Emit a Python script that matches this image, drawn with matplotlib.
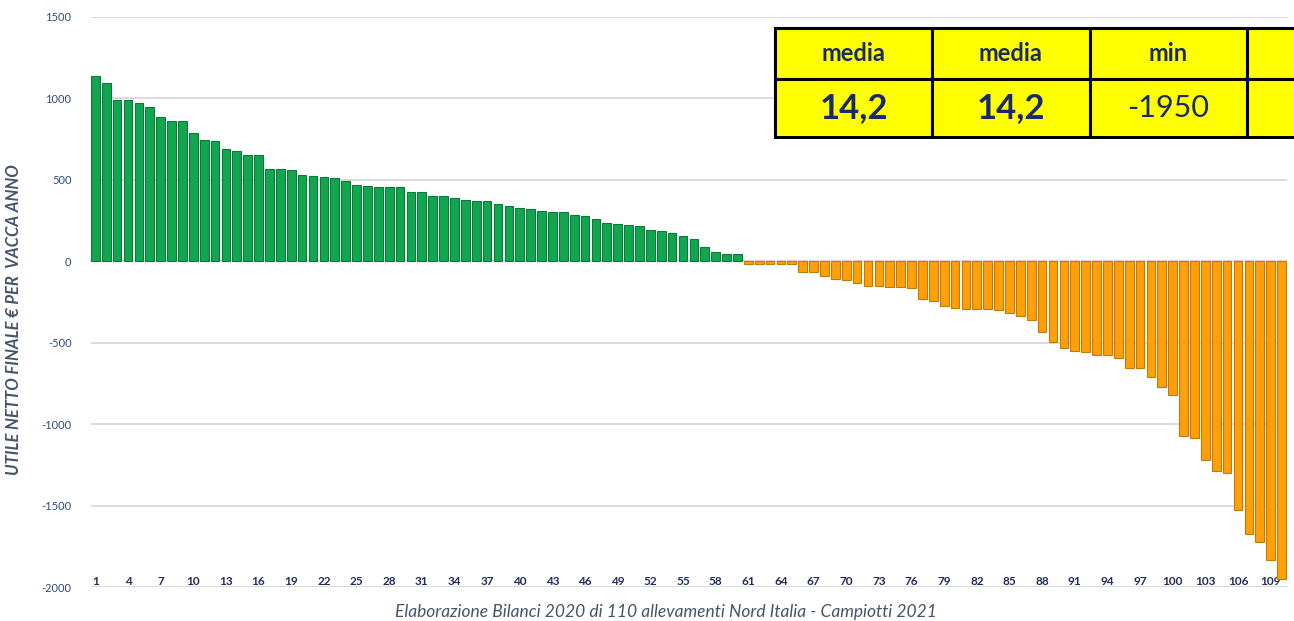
import numpy as np
import matplotlib.pyplot as plt

plt.rcParams['font.family'] = ['Lato', 'DejaVu Sans']
plt.rcParams['axes.unicode_minus'] = False

# utile netto finale per vacca, 110 allevamenti ordinati
utile = [1140, 1095, 988, 988, 969, 950, 887, 863, 859, 790,
         745, 740, 687, 675, 651, 651, 565, 565, 561, 532,
         522, 516, 514, 496, 469, 461, 459, 459, 459, 424,
         424, 400, 398, 388, 378, 369, 369, 353, 337, 326,
         318, 306, 302, 302, 284, 277, 261, 237, 226, 225,
         214, 190, 186, 176, 153, 135, 88, 57, 47, 47,
         -18, -18, -18, -18, -18, -65, -67, -93, -110, -116,
         -134, -152, -152, -157, -159, -163, -234, -245, -277, -284,
         -290, -294, -295, -298, -316, -335, -361, -432, -495, -530,
         -552, -557, -575, -578, -592, -655, -657, -712, -769, -820,
         -1070, -1085, -1218, -1285, -1299, -1526, -1677, -1722, -1835, -1950]
allevamenti = np.arange(1, len(utile) + 1)
tick_pos = allevamenti[::3]

table_head = ['media', 'media', 'min', '']
table_vals = ['14,2', '14,2', '-1950', '']

W, H = 1294, 621
fig = plt.figure(figsize=(W / 100, H / 100), dpi=100)
ax = fig.add_axes([91 / W, 1 - 587 / H, 1196 / W, 570 / H])

colors = ['#12a64f' if v >= 0 else '#ffa00a' for v in utile]
edges = ['#0b7a3a' if v >= 0 else '#c47a00' for v in utile]
ax.bar(allevamenti, utile, width=0.8, color=colors, edgecolor=edges,
       linewidth=0.8, zorder=3)

ax.set_ylim(-2000, 1500)
ax.set_xlim(0.6, 110.5)
ax.set_yticks(range(-2000, 1501, 500))
ax.yaxis.grid(True, color='#d9d9d9', linewidth=1.3)
ax.set_axisbelow(True)
for s in ax.spines.values():
    s.set_visible(False)

ax.set_xticks(tick_pos)
ax.set_xticklabels([str(t) for t in tick_pos], weight='bold')
ax.tick_params(axis='x', length=0, pad=-8, labelsize=8.5, labelcolor='#1f2d5c')
ax.tick_params(axis='y', length=0, pad=14, labelsize=8, labelcolor='#2f4a7a')

fig.text(14 / W, 1 - 320 / H, 'UTILE NETTO FINALE € PER  VACCA ANNO',
         rotation=90, ha='center', va='center', fontsize=12,
         style='italic', weight='bold', color='#44546a')
fig.text(666 / W, 1 - 612 / H,
         'Elaborazione Bilanci 2020 di 110 allevamenti Nord Italia - Campiotti 2021',
         ha='center', va='center', fontsize=12.5, style='italic', color='#44546a')

# tabella riassuntiva (esce dal bordo destro)
tab = ax.table(cellText=[table_vals], colLabels=table_head, cellLoc='center',
               bbox=[(775 - 91) / 1196, (587 - 137) / 570,
                     (1404 - 775) / 1196, (137 - 28) / 570])
tab.auto_set_font_size(False)
tab.set_zorder(5)
for (r, c), cell in tab.get_celld().items():
    cell.set_facecolor('#ffff00')
    cell.set_edgecolor('black')
    cell.set_linewidth(2.2)
    cell.set_height(51 if r == 0 else 58)
    if r == 0:
        cell.get_text().set_fontsize(17)
        cell.get_text().set_weight('bold')
    elif c < 2:
        cell.get_text().set_fontsize(25)
        cell.get_text().set_weight('bold')
    else:
        cell.get_text().set_fontsize(22)
    cell.get_text().set_color('#1a2a66')

fig.savefig('out.png', dpi=100)
